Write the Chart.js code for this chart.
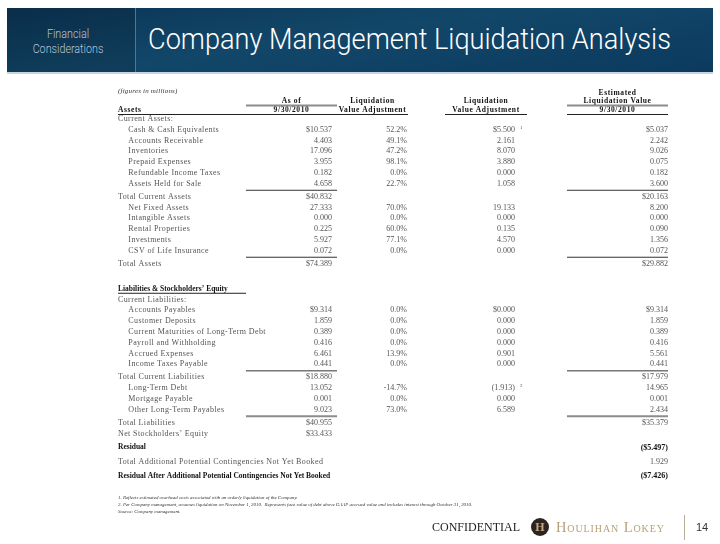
<!DOCTYPE html>
<html>
<head>
<meta charset="utf-8">
<script src="https://cdn.jsdelivr.net/npm/chart.js@4"></script>
<style>
  body { margin: 0; background: #fff; }
  #page { position: relative; width: 720px; height: 544px; overflow: hidden; background: #fff; }
  #table { position: absolute; left: 0; top: 0; }
  .banner {
    position: absolute; left: 7px; top: 8px; width: 706px; height: 64px;
    background: linear-gradient(172deg, #0b3556 0%, #124769 45%, #0f4165 70%, #0b3a5d 100%);
    border-bottom: 2px solid #c9d5df;
  }
  .banner .side {
    position: absolute; left: 0; top: 0; width: 128px; height: 64px;
    background: rgba(0, 0, 0, 0.13);
    border-right: 1px solid #7d6d4f;
  }
  .banner .side span {
    position: absolute; left: 61px; top: 18px; transform: translateX(-50%) scaleX(0.86);
    color: #b7c5d3; font: 300 12.5px Roboto, "DejaVu Sans", sans-serif;
    text-align: center; line-height: 15px; white-space: nowrap;
  }
  .banner .title {
    position: absolute; left: 141px; top: 13px; color: #fff;
    font: 300 30px Roboto, "DejaVu Sans", sans-serif;
    transform: scaleX(0.905); transform-origin: left center;
    white-space: nowrap;
  }
  .notes {
    position: absolute; left: 118px; top: 494px; color: #333;
    font: italic 4.9px "Liberation Serif", serif; line-height: 7px; white-space: nowrap;
  }
  .footer { position: absolute; top: 515px; height: 25px; }
  .conf { left: 432px; font: 12px "Liberation Serif", serif; color: #222; line-height: 25px; }
  .logo {
    left: 531px; top: 518px; width: 18px; height: 18px; border-radius: 50%;
    background: #2b2420; color: #c2ab80; font: bold 12px "Liberation Serif", serif;
    text-align: center; line-height: 18px;
  }
  .brand { left: 556px; font: 14.5px "Liberation Serif", serif; font-variant: small-caps;
    letter-spacing: 0.9px; color: #b7a078; line-height: 25px; }
  .bar { left: 684px; width: 1px; background: #b9ad98; }
  .pg { left: 696px; font: 11px "Liberation Sans", sans-serif; color: #333; line-height: 25px; }
</style>
</head>
<body>
<div id="page">
  <canvas id="table" width="720" height="544"></canvas>
  <div class="banner">
    <div class="side"><span>Financial<br>Considerations</span></div>
    <div class="title">Company Management Liquidation Analysis</div>
  </div>
  <div class="notes">
    1. Reflects estimated overhead costs associated with an orderly liquidation of the Company.<br>
    2. Per Company management, assumes liquidation on November 1, 2010.&nbsp; Represents face value of debt above GAAP accrued value and includes interest through October 31, 2010.<br>
    Source: Company management.
  </div>
  <div class="footer conf">CONFIDENTIAL</div>
  <div class="footer logo">H</div>
  <div class="footer brand">Houlihan Lokey</div>
  <div class="footer bar"></div>
  <div class="footer pg">14</div>
</div>
<script>
// rows of the table
const rows = [
  'Current Assets:', 'Cash & Cash Equivalents', 'Accounts Receivable', 'Inventories',
  'Prepaid Expenses', 'Refundable Income Taxes', 'Assets Held for Sale', 'Total Current Assets',
  'Net Fixed Assets', 'Intangible Assets', 'Rental Properties', 'Investments',
  'CSV of Life Insurance', 'Total Assets', '', 'Liabilities & Stockholders\u2019 Equity',
  'Current Liabilities:', 'Accounts Payables', 'Customer Deposits',
  'Current Maturities of Long-Term Debt', 'Payroll and Withholding', 'Accrued Expenses',
  'Income Taxes Payable', 'Total Current Liabilities', 'Long-Term Debt', 'Mortgage Payable',
  'Other Long-Term Payables', 'Total Liabilities', 'Net Stockholders\u2019 Equity', 'Residual',
  'Total Additional Potential Contingencies Not Yet Booked',
  'Residual After Additional Potential Contingencies Not Yet Booked'
];

// $ millions, as of 9/30/2010
const bookValue = [null, 10.537, 4.403, 17.096, 3.955, 0.182, 4.658, 40.832,
  27.333, 0.000, 0.225, 5.927, 0.072, 74.389, null, null,
  null, 9.314, 1.859, 0.389, 0.416, 6.461, 0.441, 18.880,
  13.052, 0.001, 9.023, 40.955, 33.433, null, null, null];

// liquidation value adjustment, %
const adjPct = [null, 52.2, 49.1, 47.2, 98.1, 0.0, 22.7, null,
  70.0, 0.0, 60.0, 77.1, 0.0, null, null, null,
  null, 0.0, 0.0, 0.0, 0.0, 13.9, 0.0, null,
  -14.7, 0.0, 73.0, null, null, null, null, null];

// liquidation value adjustment, $ millions
const adjValue = [null, 5.500, 2.161, 8.070, 3.880, 0.000, 1.058, null,
  19.133, 0.000, 0.135, 4.570, 0.000, null, null, null,
  null, 0.000, 0.000, 0.000, 0.000, 0.901, 0.000, null,
  -1.913, 0.000, 6.589, null, null, null, null, null];

// estimated liquidation value, $ millions
const liqValue = [null, 5.037, 2.242, 9.026, 0.075, 0.182, 3.600, 20.163,
  8.200, 0.000, 0.090, 1.356, 0.072, 29.882, null, null,
  null, 9.314, 1.859, 0.389, 0.416, 5.561, 0.441, 17.979,
  14.965, 0.001, 2.434, 35.379, null, -5.497, 1.929, -7.426];

const dollarRows = [1, 7, 13, 17, 23, 27, 28, 29, 31];
const boldRows = [15, 29, 31];
const indentRows = [1, 2, 3, 4, 5, 6, 8, 9, 10, 11, 12, 17, 18, 19, 20, 21, 22, 24, 25, 26];
const footnoteMarks = { 1: '1', 24: '2' };   // on the adjustment column
const ruledRows = [6, 12, 22];               // single rule below
const doubleRuledRows = [26];                // grey double rule below

// ---- layout ----
// row spacing in "line" units: a bit more room after a rule, round the blank line
// and in the residual block at the bottom
function rowStep(i) {
  if (ruledRows.includes(i) || doubleRuledRows.includes(i)) return 1.2;
  if (i === 13 || i === 14) return 1.16;
  if (i >= 28) return 1.3;
  return 1;
}
const rowPos = [0];
for (let i = 1; i < rows.length; i++) rowPos.push(rowPos[i - 1] + rowStep(i - 1));
const LINE = 10.8, FIRST_ROW_Y = 119;
const yMin = -0.5, yMax = rowPos[rowPos.length - 1] + 0.5;

// x scale runs in page pixels
const colRight = { book: 332, pct: 407, adj: 515, liq: 668 };
const colSpan = { book: [246, 337], pct: [337, 408], adj: [445, 527], liq: [567, 668] };
const SERIF = '"Liberation Serif", "Times New Roman", serif';
const TXT = '#555';

function money(v, i) {
  let s = Math.abs(v).toFixed(3);
  if (dollarRows.includes(i)) s = '$' + s;
  return v < 0 ? '(' + s + ')' : s;
}
function pct(v) { return v.toFixed(1) + '%'; }

function toPoints(arr, col) {
  const pts = [];
  arr.forEach((v, i) => { if (v !== null) pts.push({ x: colRight[col], y: rowPos[i], row: i, v: v }); });
  return pts;
}

const columns = [
  { key: 'book', label: 'As of 9/30/2010', values: bookValue, fmt: money },
  { key: 'pct', label: 'Liquidation Value Adjustment (%)', values: adjPct, fmt: pct },
  { key: 'adj', label: 'Liquidation Value Adjustment', values: adjValue, fmt: money },
  { key: 'liq', label: 'Estimated Liquidation Value 9/30/2010', values: liqValue, fmt: money }
];

// row labels in the source are set with a little tracking
const labelTracking = {
  id: 'labelTracking',
  beforeDraw(chart) { chart.ctx.letterSpacing = '0.38px'; },
  beforeDatasetsDraw(chart) { chart.ctx.letterSpacing = '0px'; }
};

const cellText = {
  id: 'cellText',
  afterDatasetsDraw(chart) {
    const ctx = chart.ctx;
    const x = chart.scales.x, y = chart.scales.y;
    const py = i => y.getPixelForValue(rowPos[i]);
    const top = py(0);
    const xp = v => x.getPixelForValue(v);
    ctx.save();
    ctx.textBaseline = 'middle';

    // section headings (bold rows)
    ctx.textAlign = 'left';
    ctx.fillStyle = '#111';
    ctx.font = 'bold 7.5px ' + SERIF;
    boldRows.forEach(i => ctx.fillText(rows[i], 118, py(i)));

    // column headings
    ctx.fillStyle = '#333';
    ctx.font = 'italic 7px ' + SERIF;
    ctx.letterSpacing = '0.2px';
    ctx.fillText('(figures in millions)', 118, top - 28);

    ctx.fillStyle = '#111';
    ctx.font = 'bold 7.5px ' + SERIF;
    ctx.letterSpacing = '0.6px';
    ctx.fillText('Assets', 118, top - 9);
    ctx.textAlign = 'center';
    const mid = k => xp((colSpan[k][0] + colSpan[k][1]) / 2);
    ctx.fillText('Estimated', mid('liq'), top - 26);
    ctx.fillText('As of', mid('book'), top - 18);
    ctx.fillText('Liquidation', mid('pct'), top - 18);
    ctx.fillText('Liquidation', mid('adj'), top - 18);
    ctx.fillText('Liquidation Value', mid('liq'), top - 18);
    ctx.fillText('9/30/2010', mid('book'), top - 9);
    ctx.fillText('Value Adjustment', mid('pct'), top - 9);
    ctx.fillText('Value Adjustment', mid('adj'), top - 9);
    ctx.fillText('9/30/2010', mid('liq'), top - 9);
    ctx.letterSpacing = '0px';

    const line = (x0, x1, yy, color, w) => {
      ctx.strokeStyle = color; ctx.lineWidth = w;
      ctx.beginPath(); ctx.moveTo(x0, yy); ctx.lineTo(x1, yy); ctx.stroke();
    };
    const rule = (k, yy, color, w) => line(xp(colSpan[k][0]), xp(colSpan[k][1]), yy, color, w);
    rule('book', top - 13.5, '#8c8c8c', 2);
    rule('liq', top - 13.5, '#8c8c8c', 2);
    const hl = top - 4.5;
    line(118, xp(colSpan.book[0]), hl, '#222', 1);
    ['book', 'pct', 'adj', 'liq'].forEach(k => rule(k, hl, '#222', 1));

    // subtotal rules
    const between = i => (py(i) + py(i + 1)) / 2;
    ruledRows.forEach(i => { rule('book', between(i), '#333', 1); rule('liq', between(i), '#333', 1); });
    doubleRuledRows.forEach(i => { rule('book', between(i), '#8c8c8c', 2); rule('liq', between(i), '#8c8c8c', 2); });
    line(118, xp(colSpan.book[0]), py(15) + 4.5, '#222', 1);

    // cell values, placed at the points the library computed
    ctx.textAlign = 'right';
    chart.data.datasets.forEach((ds, di) => {
      const meta = chart.getDatasetMeta(di);
      meta.data.forEach((pt, j) => {
        const raw = ds.data[j];
        const i = raw.row;
        const bold = boldRows.includes(i);
        ctx.font = (bold ? 'bold ' : '') + '8px ' + SERIF;
        ctx.fillStyle = bold ? '#111' : TXT;
        ctx.fillText(columns[di].fmt(raw.v, i), pt.x, pt.y);
        if (columns[di].key === 'adj' && footnoteMarks[i]) {
          ctx.font = '5px ' + SERIF;
          ctx.textAlign = 'left';
          ctx.fillText(footnoteMarks[i], pt.x + 5, pt.y - 2);
          ctx.textAlign = 'right';
        }
      });
    });
    ctx.restore();
  }
};

const chart = new Chart(document.getElementById('table'), {
  type: 'scatter',
  data: {
    datasets: columns.map(c => ({
      label: c.label,
      data: toPoints(c.values, c.key),
      pointRadius: 0,
      showLine: false
    }))
  },
  options: {
    responsive: false,
    animation: false,
    events: [],
    layout: { padding: {
      left: 118, right: 30,
      top: FIRST_ROW_Y + yMin * LINE,
      bottom: 544 - (FIRST_ROW_Y + yMax * LINE)
    } },
    plugins: { legend: { display: false }, tooltip: { enabled: false } },
    scales: {
      x: { type: 'linear', min: 118, max: 690, display: false },
      y: {
        type: 'linear',
        reverse: true,
        min: yMin, max: yMax,
        grid: { display: false, drawTicks: false },
        border: { display: false },
        afterBuildTicks: s => { s.ticks = rowPos.map(v => ({ value: v })); },
        afterFit: s => { s.width = 0; },
        ticks: {
          mirror: true,
          autoSkip: false,
          padding: 0,
          color: TXT,
          font: { family: SERIF, size: 8 },
          // bold section headings are set separately, untracked
          callback: (v, i) => boldRows.includes(i) ? '' :
            (indentRows.includes(i) ? '\u2003\u2009' : '') + rows[i]
        }
      }
    }
  },
  plugins: [labelTracking, cellText]
});
</script>
</body>
</html>
